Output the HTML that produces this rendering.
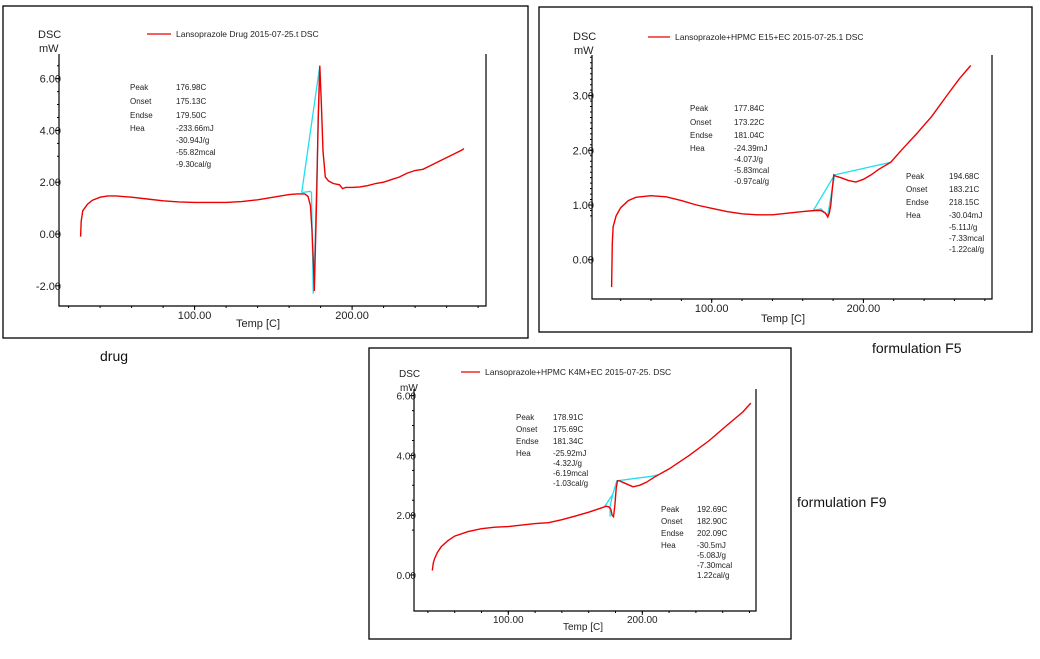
<!DOCTYPE html>
<html><head><meta charset="utf-8">
<style>
html,body{margin:0;padding:0;background:#fff;}
body{width:1040px;height:659px;position:relative;overflow:hidden;font-family:"Liberation Sans",Arial,sans-serif;}
.cap{position:absolute;font-size:14px;color:#111;}
</style></head>
<body>
<svg id="svg" width="1040" height="659" viewBox="0 0 1040 659" style="position:absolute;left:0;top:0"></svg>
<div class="cap" style="left:100px;top:348px">drug</div>
<div class="cap" style="left:872px;top:340px">formulation F5</div>
<div class="cap" style="left:797px;top:494px">formulation F9</div>
<script>
// ---- Panel 1: drug ----
const drugTemps = [27.6,28,29,32,35,40,45,50,60,70,80,90,100,110,120,130,140,150,160,165,170,172,173.5,174.5,175.5,176,176.5,177.5,178.5,179.5,180.5,181.5,183,185,188,192,194,196,200,205,210,215,220,225,230,235,240,245,250,255,260,265,270,271];
const drugVals  = [-0.1,0.5,0.9,1.15,1.3,1.42,1.47,1.47,1.42,1.35,1.28,1.24,1.22,1.22,1.22,1.25,1.32,1.42,1.52,1.55,1.55,1.45,1.1,0.2,-1.2,-2.2,-1.0,1.5,4.5,6.5,5.0,3.2,2.2,2.05,1.95,1.9,1.75,1.8,1.8,1.82,1.87,1.95,2.0,2.1,2.2,2.35,2.45,2.5,2.65,2.8,2.95,3.1,3.25,3.3];
const drugCyanT = [168,173.5,174.2,175.3,176.2,179.5,168];
const drugCyanV = [1.6,1.65,1.6,-2.3,-1.0,6.5,1.6];
const drugYTicks = [-2,0,2,4,6];
const drugYLabels = ["-2.00","0.00","2.00","4.00","6.00"];
// ---- Panel 2: F5 ----
const f5Temps = [34,34.5,35,37,40,45,50,60,70,80,90,100,110,120,130,140,150,160,168,172,175,176.5,177.5,178.5,179.5,180.5,181.5,185,190,195,200,205,210,218,225,235,245,255,263,270.7];
const f5Vals  = [-0.5,0.3,0.6,0.8,0.95,1.08,1.14,1.17,1.15,1.08,1.0,0.94,0.88,0.84,0.82,0.82,0.85,0.88,0.9,0.9,0.85,0.78,0.85,1.0,1.3,1.55,1.53,1.5,1.45,1.42,1.47,1.55,1.65,1.78,2.0,2.3,2.62,3.0,3.3,3.55];
const f5CyanT = [167,172,176,176.5,181,218,181,167];
const f5CyanV = [0.9,0.93,0.82,0.82,1.55,1.78,1.55,0.9];
const f5YTicks = [0,1,2,3];
const f5YLabels = ["0.00","1.00","2.00","3.00"];
// ---- Panel 3: F9 ----
const f9Temps = [43.3,44,45,47,50,55,60,70,80,90,100,110,120,130,140,150,160,170,173,175,176.5,177.5,178.5,179.5,180.5,181.5,183,188,193,198,203,210,220,235,250,263,275,281];
const f9Vals  = [0.15,0.4,0.55,0.75,0.95,1.15,1.3,1.45,1.55,1.6,1.62,1.67,1.72,1.75,1.85,1.97,2.1,2.25,2.3,2.28,2.2,2.0,1.95,2.3,2.9,3.15,3.15,3.05,2.95,3.0,3.1,3.3,3.55,4.0,4.5,5.0,5.45,5.75];
const f9CyanT = [172,178,181,207,212,207,181,178,176,176];
const f9CyanV = [2.3,2.7,3.15,3.3,3.35,3.3,3.15,2.7,2.3,1.95];
const f9YTicks = [0,2,4,6];
const f9YLabels = ["0.00","2.00","4.00","6.00"];
const xTicks = [100,200];
const xLabels = ["100.00","200.00"];

const NS="http://www.w3.org/2000/svg";
const svg=document.getElementById('svg');
function mk(tag,attrs,parent){const e=document.createElementNS(NS,tag);for(const k in attrs)e.setAttribute(k,attrs[k]);(parent||svg).appendChild(e);return e;}
function txt(x,y,s,size,anchor,parent){const t=mk('text',{x:x,y:y,'font-size':size,'text-anchor':anchor||'start',fill:'#222','font-family':'Liberation Sans, Arial, sans-serif'},parent);t.textContent=s;return t;}

function panel(p){
  const g=mk('g',{});
  
  
  const b=mk('rect',{x:p.box[0],y:p.box[1],width:p.box[2]-p.box[0],height:p.box[3]-p.box[1],fill:'none',stroke:'#000','stroke-width':1.3},g);
  
  
  const X=t=>p.x100+(t-100)*p.pxd;
  const Y=v=>p.y0-v*p.pxm;
  const [L,T,R,B]=p.axes;
  const ax=mk('path',{d:`M${L},${T}V${B}H${R}V${T}`,fill:'none',stroke:'#000','stroke-width':1.2},g);
  
  
  // minor y ticks
  let d='';
  for(let v=Math.ceil((p.y0-B)/p.pxm*(-1)/p.ystep)*p.ystep; Y(v)>=T; v+=p.ystep){ if(Y(v)<=B) d+=`M${L-2},${Y(v).toFixed(1)}h2`; }
  for(let t=20;X(t)<R;t+=20){ if(X(t)>L) d+=`M${X(t).toFixed(1)},${B}v2`; }
  mk('path',{d:d,stroke:'#000','stroke-width':1},g);
  p.yt.forEach((v,i)=>{
    mk('path',{d:`M${L-4},${Y(v)}h4`,stroke:'#000'},g);
    const t=txt(L+2,Y(v)+4,p.yl[i],p.fs,'end',g);
    
    
  });
  xTicks.forEach((v,i)=>{
    mk('path',{d:`M${X(v)},${B}v4`,stroke:'#000'},g);
    const t=txt(X(v),B+p.fs+2,xLabels[i],p.fs,'middle',g);
    
    
  });
  const xt=txt(p.xlab[0],p.xlab[1],'Temp  [C]',p.fs,'middle',g);
  
  
  const y1=txt(p.dsc[0],p.dsc[1],'DSC',p.fs,'start',g);
  
  
  const y2=txt(p.dsc[0]+1,p.dsc[1]+14,'mW',p.fs,'start',g);
  
  
  const lg=mk('line',{x1:p.leg[0],x2:p.leg[1],y1:p.leg[2],y2:p.leg[2],stroke:'#e00','stroke-width':1.3},g);
  
  
  const lt=txt(p.leg[1]+5,p.leg[2]+3,p.legText,8.5,'start',g);
  
  
  // cyan
  const cp=p.ct.map((t,i)=>X(t).toFixed(1)+','+Y(p.cv[i]).toFixed(1)).join(' ');
  const c=mk('polyline',{points:cp,fill:'none',stroke:'#1ee0f0','stroke-width':1.3},g);
  
  
  const pts=p.t.map((t,i)=>X(t).toFixed(1)+','+Y(p.v[i]).toFixed(1)).join(' ');
  const l=mk('polyline',{points:pts,fill:'none',stroke:'#e00','stroke-width':1.4},g);
  
  
  p.notes.forEach(n=>{
    const labs=['Peak','Onset','Endse','Hea'];
    n.vals.forEach((s,i)=>{
      const yy=n.y+n.rows[i];
      if(i<4) txt(n.x,yy,labs[i],8,'start',g);
      const tv=txt(n.vx,yy,s,8,'start',g);
      
      
    });
  });
}

panel({name:'drug-panel',box:[3,6,528,338],axes:[59,54,486,306],x100:194.6,pxd:1.575,y0:234,pxm:25.9,ystep:0.5,
  yt:drugYTicks,yl:drugYLabels,fs:11,xlab:[258,327],dsc:[38,38],leg:[147,171,34],legText:'Lansoprazole Drug 2015-07-25.t  DSC',
  t:drugTemps,v:drugVals,ct:drugCyanT,cv:drugCyanV,
  notes:[{x:130,vx:176,y:90,rows:[0,14,28,41,53,65,77],vals:['176.98C','175.13C','179.50C','-233.66mJ','-30.94J/g','-55.82mcal','-9.30cal/g']}]});
panel({name:'f5-panel',box:[539,7,1032,332],axes:[592,55,992,299],x100:711.7,pxd:1.517,y0:259.7,pxm:54.7,ystep:0.1,
  yt:f5YTicks,yl:f5YLabels,fs:11,xlab:[783,322],dsc:[573,40],leg:[648,670,37],legText:'Lansoprazole+HPMC E15+EC 2015-07-25.1  DSC',
  t:f5Temps,v:f5Vals,ct:f5CyanT,cv:f5CyanV,
  notes:[{x:690,vx:734,y:111,rows:[0,14,27,40,51,62,73],vals:['177.84C','173.22C','181.04C','-24.39mJ','-4.07J/g','-5.83mcal','-0.97cal/g']},
         {x:906,vx:949,y:179,rows:[0,13,26,39,51,62,73],vals:['194.68C','183.21C','218.15C','-30.04mJ','-5.11J/g','-7.33mcal','-1.22cal/g']}]});
panel({name:'f9-panel',box:[369,348,791,639],axes:[414,389,756,611],x100:508.3,pxd:1.34,y0:575,pxm:29.9,ystep:0.5,
  yt:f9YTicks,yl:f9YLabels,fs:10,xlab:[583,630],dsc:[399,377],leg:[461,480,372],legText:'Lansoprazole+HPMC K4M+EC 2015-07-25.  DSC',
  t:f9Temps,v:f9Vals,ct:f9CyanT,cv:f9CyanV,
  notes:[{x:516,vx:553,y:420,rows:[0,12,24,36,46,56,66],vals:['178.91C','175.69C','181.34C','-25.92mJ','-4.32J/g','-6.19mcal','-1.03cal/g']},
         {x:661,vx:697,y:512,rows:[0,12,24,36,46,56,66],vals:['192.69C','182.90C','202.09C','-30.5mJ','-5.08J/g','-7.30mcal','1.22cal/g']}]});
</script>
</body></html>
